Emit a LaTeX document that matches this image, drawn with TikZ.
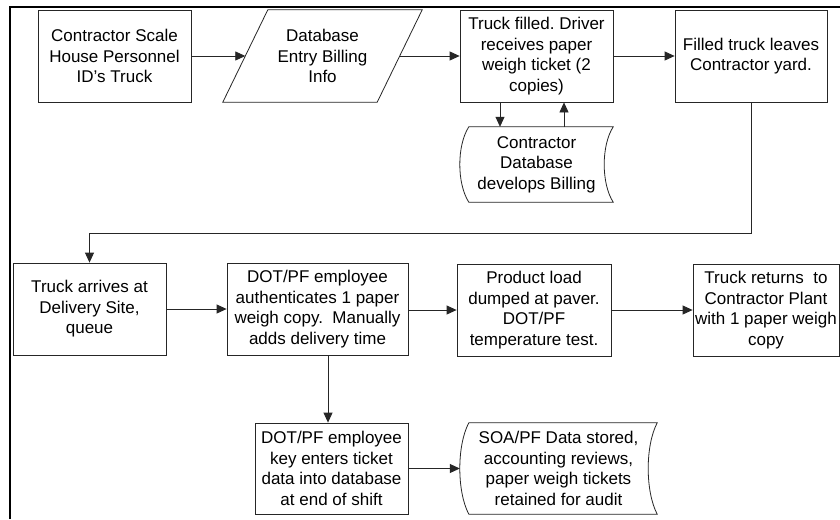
\documentclass[tikz,border=0pt]{standalone}
\usepackage{fontspec}
\setmainfont{Liberation Sans}
\usetikzlibrary{arrows.meta,calc}
\frenchspacing
\newcommand\drawstoredshape[1]{%
  \draw[shapeline] ([xshift=9pt]#1.north west) -- (#1.north east)
    .. controls ($(#1.north east)!0.25!(#1.south east)+(-12,0)$) and ($(#1.north east)!0.75!(#1.south east)+(-12,0)$) .. (#1.south east)
    -- ([xshift=9pt]#1.south west)
    .. controls ($(#1.north west)!0.75!(#1.south west)+(-3,0)$) and ($(#1.north west)!0.25!(#1.south west)+(-3,0)$) .. ([xshift=9pt]#1.north west) -- cycle;}
\begin{document}
\begin{tikzpicture}[x=1pt,y=-1pt,
  shapeline/.style={draw=black!85,line width=0.8pt},
  box/.style={shapeline,rectangle,inner sep=0pt,align=center,font=\fontsize{17}{20.5}\selectfont,minimum height=92pt},
  plain/.style={rectangle,inner sep=0pt,align=center,font=\fontsize{17}{20.5}\selectfont,minimum height=92pt},
  arr/.style={draw=black!85,line width=0.8pt,-{Triangle[length=10pt,width=9pt]}},
  conn/.style={draw=black!85,line width=0.8pt}]
\useasboundingbox (0,0) rectangle (840,519);
\fill[white] (0,0) rectangle (840,519);
% frame
\draw[line width=1.4pt] (10,519) -- (10,7) -- (840,7);
% row 1
\node[box,minimum width=153pt] (b1) at (114.5,56) {Contractor Scale\\House Personnel\\ID’s Truck};
\node[plain,minimum width=154pt] (para) at (322.5,56) {Database\\Entry Billing\\Info};
\draw[shapeline] ([xshift=-22.5pt]para.south west) -- ([xshift=22.5pt]para.north west) -- ([xshift=22.5pt]para.north east) -- ([xshift=-22.5pt]para.south east) -- cycle;
\node[box,minimum width=153pt] (b3) at (536.5,56) {Truck filled. Driver\\receives paper\\weigh ticket (2\\copies)};
\node[box,minimum width=152pt] (b4) at (751,56) {Filled truck leaves\\Contractor yard.};
\node[plain,minimum width=153pt,minimum height=75pt] (db1) at (536.5,164.5) {Contractor\\Database\\develops Billing};
\drawstoredshape{db1}
% row 2
\node[box,minimum width=153pt] (b5) at (89.5,309) {Truck arrives at\\Delivery Site,\\queue};
\node[box,minimum width=181pt] (b6) at (317.5,309) {DOT/PF employee\\authenticates 1 paper\\weigh copy.\ \ Manually\\adds delivery time};
\node[box,minimum width=154pt] (b7) at (534,310) {Product load\\dumped at paver.\\DOT/PF\\temperature test.};
\node[box,minimum width=146pt] (b8) at (766,310) {Truck returns\ \ to\\Contractor Plant\\with 1 paper weigh\\copy};
% row 3
\node[box,minimum width=153pt,minimum height=91pt] (b9) at (331.5,468.5) {DOT/PF employee\\key enters ticket\\data into database\\at end of shift};
\node[plain,minimum width=197pt,minimum height=91pt] (db2) at (558.5,468.5) {SOA/PF Data stored,\\accounting reviews,\\paper weigh tickets\\retained for audit};
\drawstoredshape{db2}
% connectors
\draw[arr] (b1.east) -- (para.west);
\draw[arr] (para.east) -- (b3.west);
\draw[arr] (b3.east) -- (b4.west);
\draw[arr] ([xshift=-36.5pt]b3.south) -- ([xshift=-36.5pt]db1.north);
\draw[arr] ([xshift=27.5pt]db1.north) -- ([xshift=27.5pt]b3.south);
\draw[arr] (b4.south) -- ++(0,131) -| (b5.north);
\draw[arr] (b5.east) -- (b6.west);
\draw[arr] (b6.east |- b7.west) -- (b7.west);
\draw[arr] (b7.east) -- (b8.west);
\draw[arr] ([xshift=10.5pt]b6.south) -- ([xshift=10.5pt]b6.south |- b9.north);
\draw[arr] (b9.east) -- (db2.west);
\end{tikzpicture}
\end{document}
